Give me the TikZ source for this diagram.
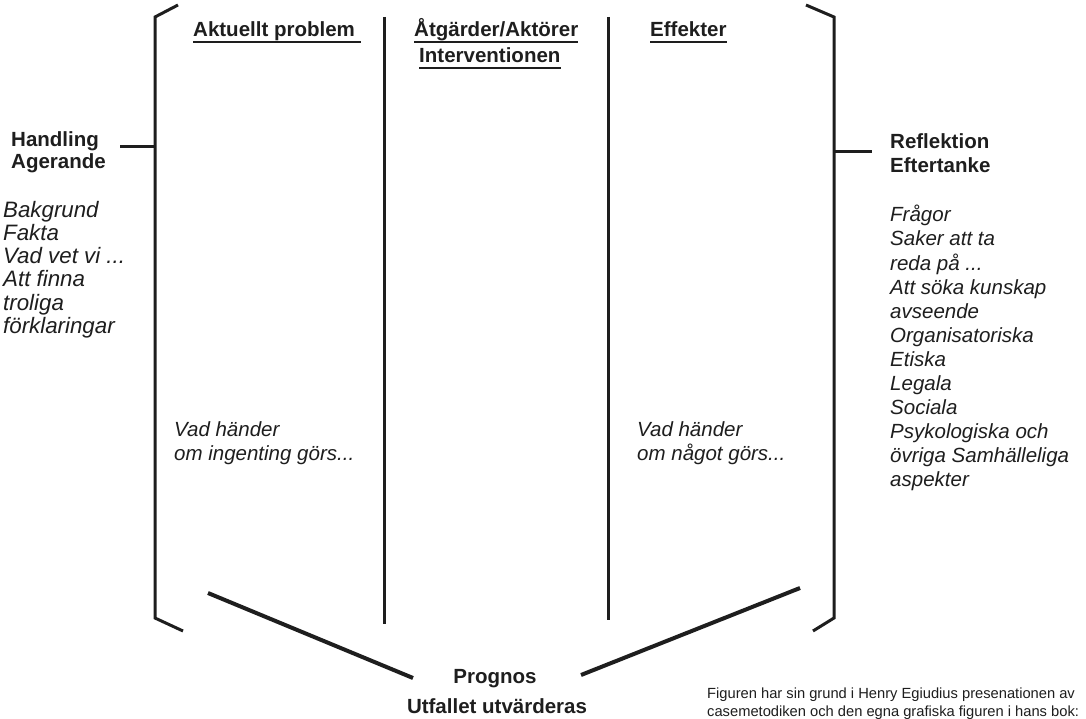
\documentclass[tikz,border=0pt]{standalone}
\usepackage{fontspec}
\setmainfont{Liberation Sans}
\definecolor{ink}{HTML}{1E1E1E}
\newcommand{\tdots}{...}
\begin{document}
\begin{tikzpicture}[x=1pt,y=-1pt]
\useasboundingbox[fill=white] (0,0) rectangle (1086,719);
\tikzset{
  bk/.style={line width=3pt, draw=ink, line join=miter},
  dg/.style={line width=4pt, draw=ink},
  ul/.style={line width=1.8pt, draw=ink},
  hd/.style={inner sep=0pt, font=\fontsize{20.5}{23}\selectfont\bfseries, text=ink},
  it/.style={inner sep=0pt, font=\fontsize{20.5}{23}\selectfont\itshape, text=ink},
  itl/.style={inner sep=0pt, font=\fontsize{22.3}{23}\selectfont\itshape, text=ink},
  ft/.style={inner sep=0pt, font=\fontsize{14.7}{18}\selectfont, text=ink},
}
% brackets
\coordinate (L1) at (178,5);
\coordinate (L2) at (155,17);
\coordinate (L3) at (155,618);
\coordinate (L4) at (183,631);
\draw[bk] (L1) -- (L2) -- (L3) -- (L4);
\coordinate (R1) at (806,5);
\coordinate (R2) at (834,17);
\coordinate (R3) at (834,618);
\coordinate (R4) at (813,631);
\draw[bk] (R1) -- (R2) -- (R3) -- (R4);
% stubs
\coordinate (Ls) at (120,147);
\coordinate (Lb) at (155,147);
\draw[bk] (Ls) -- (Lb);
\coordinate (Rb) at (834,152);
\coordinate (Rs) at (872,152);
\draw[bk] (Rb) -- (Rs);
% dividers
\coordinate (D1t) at (384,17);
\coordinate (D1b) at (384,624);
\coordinate (D2t) at (608,17);
\coordinate (D2b) at (608,620);
\draw[bk] (D1t) -- (D1b);
\draw[bk] (D2t) -- (D2b);
% bottom diagonals
\coordinate (G1a) at (208,593);
\coordinate (G1b) at (413,678);
\coordinate (G2a) at (581,675);
\coordinate (G2b) at (800,588);
\draw[dg] (G1a) -- (G1b);
\draw[dg] (G2a) -- (G2b);
% headings
\node[hd, anchor=base west] (h1) at (193,37) {Aktuellt problem};
\node[hd, anchor=base west] (h2a) at (414,37) {Åtgärder/Aktörer};
\node[hd, anchor=base west] (h2b) at (419,63) {Interventionen};
\node[hd, anchor=base west] (h3) at (650,37) {Effekter};
\draw[ul] ([yshift=-5pt]h1.base west) -- ([yshift=-5pt,xshift=6pt]h1.base east);
\draw[ul] ([yshift=-5pt]h2a.base west) -- ([yshift=-5pt]h2a.base east);
\draw[ul] ([yshift=-5pt]h2b.base west) -- ([yshift=-5pt]h2b.base east);
\draw[ul] ([yshift=-5pt]h3.base west) -- ([yshift=-5pt]h3.base east);
% left side
\node[hd, anchor=base west] (lh1) at (11,147) {Handling};
\node[hd, anchor=base west] (lh2) at (11,169) {Agerande};
\foreach \t [count=\i from 0] in {Bakgrund, Fakta, {Vad vet vi \tdots}, Att finna, troliga, förklaringar}
  \node[itl, anchor=base west] (li\i) at (3,218+23*\i) {\t};
% right side
\node[hd, anchor=base west] (rh1) at (890,149) {Reflektion};
\node[hd, anchor=base west] (rh2) at (890,173) {Eftertanke};
\foreach \t [count=\i from 0] in {Frågor, Saker att ta, {reda på \tdots}, Att söka kunskap, avseende, Organisatoriska, Etiska, Legala, Sociala, Psykologiska och, övriga Samhälleliga, aspekter}
  \node[it, anchor=base west] (ri\i) at (890,222+24*\i) {\t};
% middle italic
\node[it, anchor=base west] (m1a) at (174,436) {Vad händer};
\node[it, anchor=base west] (m1b) at (174,460) {om ingenting görs...};
\node[it, anchor=base west] (m2a) at (637,436) {Vad händer};
\node[it, anchor=base west] (m2b) at (637,460) {om något görs...};
% bottom
\node[hd, anchor=base] (p1) at (495,683) {Prognos};
\node[hd, anchor=base] (p2) at (497,713) {Utfallet utvärderas};
\node[ft, anchor=base west] (f1) at (707,698) {Figuren har sin grund i Henry Egiudius presenationen av};
\node[ft, anchor=base west] (f2) at (707,716) {casemetodiken och den egna grafiska figuren i hans bok:};
\end{tikzpicture}
\end{document}
